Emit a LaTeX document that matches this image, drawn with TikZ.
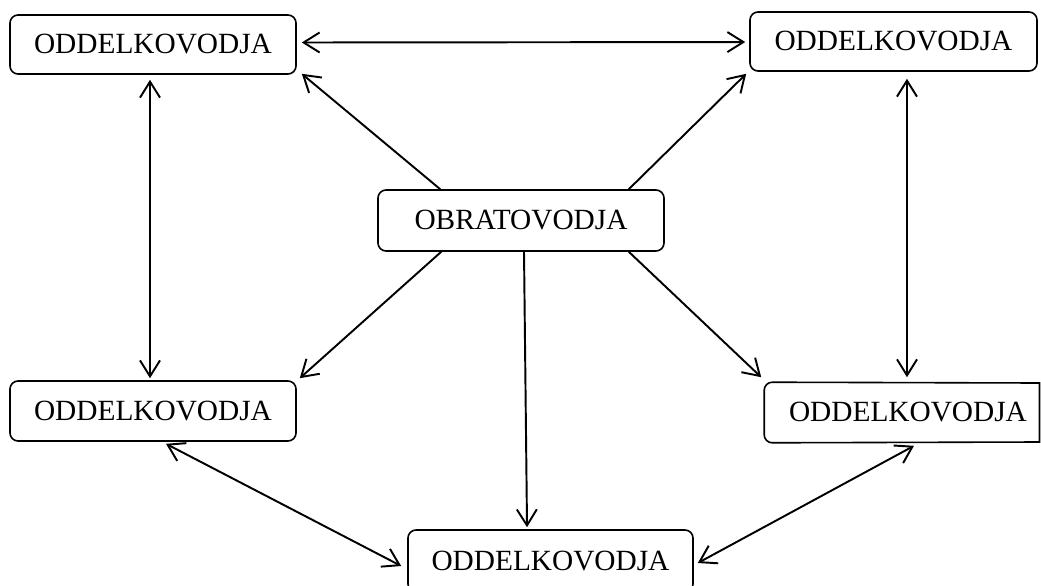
\documentclass[tikz,border=0pt]{standalone}
\usepackage{fontspec}
\setmainfont{Liberation Serif}
\usetikzlibrary{arrows.meta}
\begin{document}
\begin{tikzpicture}[x=0.75pt,y=-0.75pt,
  box/.style={draw,line width=1.2pt,rounded corners=6pt,inner sep=0pt,
    font=\fontsize{22pt}{24pt}\selectfont},
  frame/.style={line width=1.2pt},
  conn/.style={line width=1.45pt},
  ar/.style={conn,-{Straight Barb[length=12pt,width=15pt,line width=1.45pt]}},
  dar/.style={conn,{Straight Barb[length=12pt,width=15pt,line width=1.45pt]}-{Straight Barb[length=12pt,width=15pt,line width=1.45pt]}}]
\useasboundingbox (0,0) rectangle (1041,585);
\clip (0,0) rectangle (1041,585);
\node[box,minimum width=214.5pt,minimum height=44.25pt] (TL) at (153,44.5) {ODDELKOVODJA};
\node[box,minimum width=215.25pt,minimum height=44.25pt] (TR) at (893.5,41.5) {ODDELKOVODJA};
\node[box,minimum width=214.5pt,minimum height=45.75pt] (C) at (521,220.5) {OBRATOVODJA};
\node[box,minimum width=214.5pt,minimum height=45pt] (BL) at (153,411) {ODDELKOVODJA};
\node[box,draw=none,minimum width=214.5pt,minimum height=44.25pt] (BR) at (908,412.5) {ODDELKOVODJA};
\draw[frame] (1039.5,383) [rounded corners=6pt] -- (BR.north west) -- (BR.south west) [sharp corners] -- (1039.5,442) -- cycle;
\node[box,minimum width=213.75pt,minimum height=46.5pt] (Bot) at (550.5,561) {ODDELKOVODJA};
% connectors
\draw[dar] ([xshift=3.75pt,yshift=1.5pt]TL.east) -- ([xshift=-3pt,yshift=-0.4pt]TR.west);
\draw[ar] ([xshift=47.25pt]C.north west) -- ([xshift=3.75pt,yshift=0.75pt]TL.south east);
\draw[ar] ([xshift=-27pt]C.north east) -- ([xshift=-2.25pt,yshift=-1.5pt]TR.south west);
\draw[dar] ([xshift=-2.25pt,yshift=-3.75pt]TL.south) -- ([xshift=-2.25pt,yshift=1.5pt]BL.north);
\draw[dar] ([xshift=10.1pt,yshift=-5.25pt]TR.south) -- ([xshift=-0.75pt,yshift=3.75pt]BR.north);
\draw[ar] ([xshift=48pt]C.south west) -- ([xshift=2.25pt,yshift=1.5pt]BL.north east);
\draw[ar] ([xshift=2.25pt]C.south) -- ([xshift=-17.6pt,yshift=1.5pt]Bot.north);
\draw[ar] ([xshift=-27pt]C.south east) -- ([xshift=-2.25pt,yshift=3.75pt]BR.north west);
\draw[dar] ([xshift=9.75pt,yshift=-1.5pt]BL.south) -- ([xshift=-4.5pt,yshift=-3.75pt]Bot.west);
\draw[dar] ([xshift=3pt,yshift=-1.5pt]Bot.east) -- ([xshift=4.5pt,yshift=-2.25pt]BR.south);
\end{tikzpicture}
\end{document}
